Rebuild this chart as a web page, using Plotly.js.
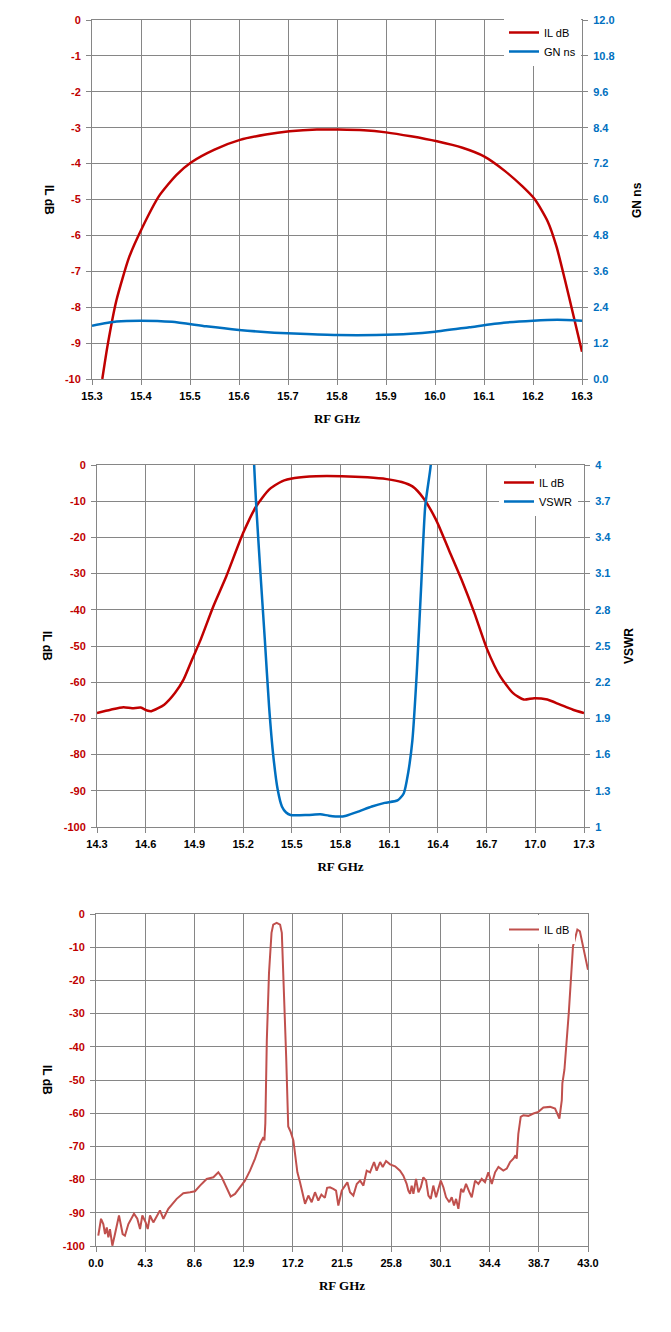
<!DOCTYPE html>
<html>
<head>
<meta charset="utf-8">
<script src="https://cdn.plot.ly/plotly-3.0.1.min.js"></script>
<style>
  html, body { margin: 0; padding: 0; background: #fff; }
  #chart { width: 671px; height: 1332px; }
</style>
</head>
<body>
<div id="chart"></div>
<script>
// chart 1 - passband IL and group delay
const freqIl1 = [15.321, 15.332, 15.35, 15.376, 15.402, 15.437, 15.472, 15.502, 15.55, 15.602, 15.655, 15.703, 15.759, 15.803, 15.855, 15.9, 15.951, 16.004, 16.056, 16.1, 16.143, 16.178, 16.204, 16.23, 16.248, 16.265, 16.283, 16.3];
const ilDb1 = [-10, -9.05, -7.8, -6.6, -5.8, -4.9, -4.32, -3.97, -3.61, -3.34, -3.19, -3.1, -3.05, -3.05, -3.07, -3.13, -3.24, -3.38, -3.56, -3.8, -4.21, -4.63, -5.0, -5.61, -6.31, -7.23, -8.26, -9.24];
const freqGn1 = [15.3, 15.35, 15.4, 15.463, 15.533, 15.6, 15.672, 15.725, 15.8, 15.88, 15.95, 16.0, 16.07, 16.14, 16.2, 16.25, 16.3];
const gnNs1 = [1.78, 1.92, 1.95, 1.91, 1.76, 1.64, 1.55, 1.51, 1.47, 1.47, 1.51, 1.58, 1.73, 1.88, 1.95, 1.98, 1.95];
const ilTicks1 = [0, -1, -2, -3, -4, -5, -6, -7, -8, -9, -10];
const ilLabels1 = ['0', '-1', '-2', '-3', '-4', '-5', '-6', '-7', '-8', '-9', '-10'];

// chart 2 - wide IL and VSWR
const freqIl2 = [14.3, 14.384, 14.463, 14.516, 14.569, 14.608, 14.635, 14.714, 14.78, 14.833, 14.885, 14.938, 15.017, 15.096, 15.2, 15.281, 15.36, 15.439, 15.518, 15.65, 15.808, 15.966, 16.085, 16.177, 16.243, 16.31, 16.388, 16.467, 16.546, 16.625, 16.704, 16.784, 16.863, 16.929, 16.994, 17.074, 17.153, 17.232, 17.3];
const ilDb2 = [-68.5, -67.6, -66.9, -67.2, -67.0, -67.8, -68.0, -66.2, -63.0, -59.3, -53.8, -48.3, -39.0, -30.8, -18.8, -11.4, -6.8, -4.5, -3.6, -3.1, -3.1, -3.4, -3.9, -4.7, -5.9, -9.1, -15.1, -23.4, -31.7, -40.9, -51.0, -58.4, -63.0, -64.8, -64.4, -64.8, -66.2, -67.6, -68.5];
const freqVswr2 = [15.255, 15.268, 15.281, 15.307, 15.334, 15.36, 15.386, 15.413, 15.439, 15.465, 15.492, 15.597, 15.676, 15.729, 15.795, 15.835, 15.914, 15.993, 16.072, 16.151, 16.19, 16.217, 16.243, 16.27, 16.296, 16.322, 16.356, 16.37];
const vswr2 = [4.4, 4.0, 3.66, 3.10, 2.55, 2.0, 1.59, 1.31, 1.17, 1.12, 1.10, 1.10, 1.105, 1.094, 1.086, 1.094, 1.13, 1.17, 1.2, 1.22, 1.28, 1.45, 1.72, 2.28, 2.97, 3.66, 4.0, 4.4];

// chart 3 - broadband IL
const freq3 = [0.2, 0.44, 0.64, 0.79, 0.94, 1.08, 1.22, 1.43, 1.66, 2.01, 2.33, 2.53, 2.83, 3.32, 3.61, 3.85, 4.05, 4.34, 4.52, 4.72, 5.01, 5.59, 5.89, 6.32, 7.05, 7.63, 8.22, 8.65, 9.09, 9.67, 10.26, 10.69, 10.99, 11.42, 11.77, 12.15, 12.59, 13.02, 13.46, 13.9, 14.34, 14.63, 14.72, 14.8, 14.93, 15.12, 15.34, 15.49, 15.79, 16.09, 16.24, 16.43, 16.62, 16.8, 16.9, 17.0, 17.25, 17.6, 17.83, 18.12, 18.27, 18.56, 18.85, 19.14, 19.43, 19.7, 20.0, 20.2, 20.45, 20.74, 20.98, 21.18, 21.48, 21.77, 21.97, 22.2, 22.49, 22.79, 23.08, 23.37, 23.66, 23.95, 24.3, 24.53, 24.83, 25.06, 25.35, 25.7, 26.14, 26.57, 26.86, 27.15, 27.3, 27.45, 27.59, 27.74, 27.97, 28.18, 28.39, 28.61, 28.85, 29.05, 29.26, 29.48, 29.72, 29.92, 30.13, 30.36, 30.59, 30.88, 31.09, 31.29, 31.47, 31.67, 31.91, 32.1, 32.34, 32.63, 32.84, 33.13, 33.42, 33.71, 34.0, 34.29, 34.59, 34.88, 35.17, 35.6, 35.9, 36.19, 36.48, 36.66, 36.77, 36.91, 37.12, 37.35, 37.79, 38.23, 38.66, 39.1, 39.69, 40.12, 40.5, 40.71, 40.76, 40.94, 41.32, 41.69, 42.07, 42.29, 42.63, 43.0];
const ilDb3 = [-96.9, -91.8, -93.4, -96.4, -94.4, -97.4, -94.9, -99.9, -96.4, -90.8, -96.4, -96.9, -93.4, -90.3, -91.8, -94.9, -90.8, -92.9, -94.9, -90.8, -92.9, -89.3, -91.8, -88.8, -85.8, -84.1, -83.8, -83.5, -81.8, -79.8, -79.3, -77.8, -79.3, -82.3, -85.1, -84.3, -82.3, -80.3, -77.3, -73.7, -69.2, -67.2, -68.2, -63, -37.9, -17.8, -5.7, -3.2, -2.7, -3.2, -5.7, -22.8, -42.9, -64, -64.7, -65.5, -68.2, -77.8, -80.8, -85.8, -87.3, -84.8, -86.8, -83.8, -86.3, -84.5, -85.5, -82.5, -82.3, -82.8, -83.3, -87.8, -83.3, -81.8, -80.8, -83.8, -84.8, -81.3, -80.3, -81.8, -77.3, -77.8, -74.7, -77.3, -74.7, -76.2, -74.4, -75.4, -76, -77.3, -78.8, -81.3, -83.3, -84.3, -81.8, -84.3, -79.8, -83.8, -82.3, -79.3, -80.3, -84.8, -85.8, -81.8, -85.3, -82.8, -80.3, -82.3, -85.3, -86.8, -85.3, -87.8, -85.8, -88.8, -82.8, -83.8, -81.3, -83.8, -85.3, -80.3, -81.3, -79.8, -80.8, -77.8, -81.3, -77.8, -76.2, -77.3, -76.7, -74.7, -73.7, -72.7, -73.7, -66.2, -61.1, -60.6, -60.8, -60.1, -59.6, -58.3, -58.1, -58.6, -61.6, -56.1, -51, -46.9, -29.8, -9.7, -4.7, -5.2, -10.8, -16.8];

// tick labels for the -100..0 axes (charts 2 and 3)
const ilTicks100 = [0, -10, -20, -30, -40, -50, -60, -70, -80, -90, -100];
const ilLabels100 = ['0', '-10', '-20', '-30', '-40', '-50', '-60', '-70', '-80', '-90', '-100'];

const RED = '#C00000';
const BLUE = '#0070C0';
const RED3 = '#C0504D';
const GRID = '#868686';
const W = 671, H = 1332;

const tickFont = (c) => ({ family: 'Liberation Sans, Arial, sans-serif', size: 11, color: c, weight: 'bold' });
const titleFont = { family: 'Liberation Serif, Times New Roman, serif', size: 13, color: '#000', weight: 'bold' };
const ytitleFont = { family: 'Liberation Sans, Arial, sans-serif', size: 12, color: '#000', weight: 'bold' };
const legFont = { family: 'Liberation Sans, Arial, sans-serif', size: 11, color: '#000' };

function xdom(l, r) { return [l / W, r / W]; }
function ydom(t, b) { return [1 - b / H, 1 - t / H]; }

function xAxis(dom, anchor, range, dtick, fmt) {
  return {
    domain: dom, anchor: anchor, range: range, dtick: dtick, tick0: range[0],
    tickformat: fmt, showgrid: true, gridcolor: GRID, gridwidth: 1,
    showline: true, linecolor: GRID, mirror: true, zeroline: false,
    ticks: 'outside', ticklen: 5, tickcolor: GRID, tickfont: tickFont('#000'),
    ticklabelstandoff: 2,
    title: { text: 'RF GHz', font: titleFont, standoff: 12 },
    fixedrange: true
  };
}
function yLeft(dom, anchor, range, vals, labels) {
  return {
    domain: dom, anchor: anchor, range: range, tickmode: 'array', tickvals: vals, ticktext: labels,
    showgrid: true, gridcolor: GRID, gridwidth: 1,
    showline: true, linecolor: GRID, mirror: true, zeroline: false,
    ticks: 'outside', ticklen: 5, tickcolor: GRID, tickfont: tickFont(RED),
    ticklabelstandoff: 3, fixedrange: true
  };
}
function yRight(overlay, anchor, range, dtick, fmt) {
  return {
    overlaying: overlay, anchor: anchor, side: 'right', range: range, dtick: dtick, tick0: range[0],
    tickformat: fmt, showgrid: false, zeroline: false, showline: false,
    ticks: 'outside', ticklen: 5, tickcolor: GRID, tickfont: tickFont(BLUE),
    ticklabelstandoff: 3, fixedrange: true
  };
}

const traces = [
  { x: freqIl1, y: ilDb1, name: 'IL dB', type: 'scatter', mode: 'lines', xaxis: 'x', yaxis: 'y',
    line: { color: RED, width: 2.5, shape: 'spline', smoothing: 0.6 }, legend: 'legend' },
  { x: freqGn1, y: gnNs1, name: 'GN ns', type: 'scatter', mode: 'lines', xaxis: 'x', yaxis: 'y4',
    line: { color: BLUE, width: 2.5, shape: 'spline', smoothing: 0.6 }, legend: 'legend' },
  { x: freqIl2, y: ilDb2, name: 'IL dB', type: 'scatter', mode: 'lines', xaxis: 'x2', yaxis: 'y2',
    line: { color: RED, width: 2.5, shape: 'spline', smoothing: 0.6 }, legend: 'legend2' },
  { x: freqVswr2, y: vswr2, name: 'VSWR', type: 'scatter', mode: 'lines', xaxis: 'x2', yaxis: 'y5',
    line: { color: BLUE, width: 2.5, shape: 'spline', smoothing: 0.6 }, legend: 'legend2' },
  { x: freq3, y: ilDb3, name: 'IL dB', type: 'scatter', mode: 'lines', xaxis: 'x3', yaxis: 'y3',
    line: { color: RED3, width: 2 }, legend: 'legend3' }
];

const legBase = { bgcolor: '#fff', borderwidth: 0, font: legFont, xanchor: 'right', yanchor: 'top', tracegroupgap: 0 };

const ytitle = (text, x, y, angle) => ({
  text: text, xref: 'paper', yref: 'paper', x: x / W, y: 1 - y / H,
  xanchor: 'center', yanchor: 'middle', textangle: angle, showarrow: false, font: ytitleFont
});

const layout = {
  width: W, height: H,
  margin: { l: 0, r: 0, t: 0, b: 0 },
  paper_bgcolor: '#fff', plot_bgcolor: '#fff',
  xaxis: xAxis(xdom(92, 582), 'y', [15.3, 16.3], 0.1, '.1f'),
  yaxis: yLeft(ydom(20, 379), 'x', [-10, 0], ilTicks1, ilLabels1),
  yaxis4: yRight('y', 'x', [0, 12], 1.2, '.1f'),
  xaxis2: xAxis(xdom(97, 584), 'y2', [14.3, 17.3], 0.3, '.1f'),
  yaxis2: yLeft(ydom(465, 827), 'x2', [-100, 0], ilTicks100, ilLabels100),
  yaxis5: yRight('y2', 'x2', [1, 4], 0.3, ''),
  xaxis3: xAxis(xdom(96, 588), 'y3', [0, 43], 4.3, '.1f'),
  yaxis3: yLeft(ydom(914, 1246), 'x3', [-100, 0], ilTicks100, ilLabels100),
  legend: Object.assign({}, legBase, { x: 581 / W, y: 1 - 18 / H }),
  legend2: Object.assign({}, legBase, { x: 578 / W, y: 1 - 468 / H }),
  legend3: Object.assign({}, legBase, { x: 575 / W, y: 1 - 915 / H }),
  showlegend: true,
  annotations: [
    ytitle('IL dB', 49, 200, 90),
    ytitle('GN ns', 637, 200, -90),
    ytitle('IL dB', 47, 646, 90),
    ytitle('VSWR', 629, 646, -90),
    ytitle('IL dB', 47, 1080, 90)
  ]
};

Plotly.newPlot('chart', traces, layout, { staticPlot: true, displayModeBar: false });
</script>
</body>
</html>
